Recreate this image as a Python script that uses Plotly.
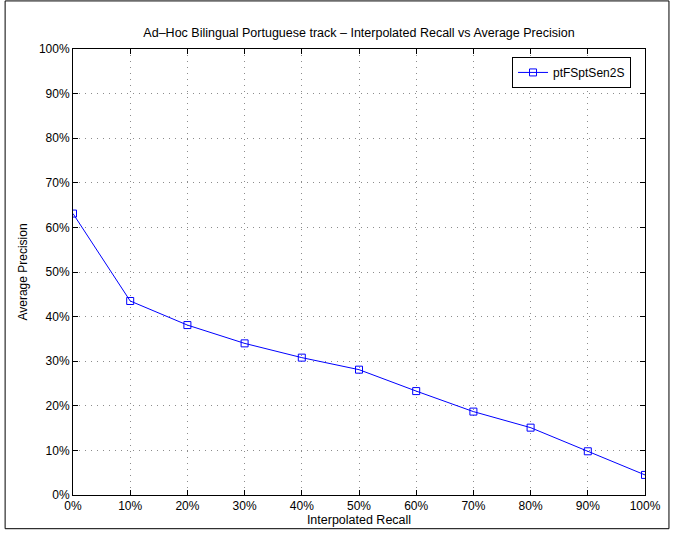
import plotly.graph_objects as go

recall = [0, 10, 20, 30, 40, 50, 60, 70, 80, 90, 100]
precision = [63.1, 43.5, 38.1, 34.0, 30.8, 28.1, 23.3, 18.7, 15.1, 9.8, 4.5]
tick_vals = [0, 10, 20, 30, 40, 50, 60, 70, 80, 90, 100]
tick_text = [f"{v}%" for v in tick_vals]
series_name = "ptFSptSen2S"

fig = go.Figure()
fig.add_trace(go.Scatter(
    x=recall, y=precision, mode="lines+markers", name=series_name,
    line=dict(color="#0000FF", width=1),
    marker=dict(symbol="square-open", size=7, color="#0000FF", line=dict(width=1)),
))

L, R, T, B = 73, 646, 49, 499
W, H = 673, 536

def px(x):
    return (x - L) / (R - L)

def py(y):
    return (B - y) / (B - T)

axis_common = dict(
    showline=True, linecolor="black", linewidth=1, mirror="ticks",
    ticks="inside", ticklen=5, tickcolor="black",
    showgrid=True, gridcolor="#8c8c8c", griddash="1px,5px", gridwidth=1,
    zeroline=False, tickfont=dict(size=12, color="black"),
    tickvals=tick_vals, ticktext=tick_text,
)

fig.update_layout(
    width=W, height=H,
    margin=dict(l=L, r=W - R, t=T, b=H - B),
    paper_bgcolor="white", plot_bgcolor="white",
    font=dict(family="Liberation Sans, Arial, sans-serif", color="black", size=12),
    title=dict(text="Ad\u2013Hoc Bilingual Portuguese track \u2013 Interpolated Recall vs Average Precision",
               x=0.5, xref="paper", y=1 - 33 / H, yanchor="middle",
               font=dict(size=12.5, color="black")),
    xaxis=dict(range=[0, 100], title=dict(text="Interpolated Recall", standoff=2,
               font=dict(size=12.5)), **axis_common),
    yaxis=dict(range=[0, 100], title=dict(text="Average Precision", standoff=8,
               font=dict(size=12)), **axis_common),
    showlegend=True,
    legend=dict(x=px(632), y=py(57), xanchor="right", yanchor="top",
                bordercolor="black", borderwidth=1, bgcolor="white",
                font=dict(size=12)),
)

fig.add_shape(type="rect", xref="paper", yref="paper",
              x0=px(5), x1=px(670), y0=py(533), y1=py(0.5),
              line=dict(color="black", width=1), layer="below")

fig.write_html("out.html", config={"displayModeBar": False},
               post_script="document.body.style.margin='0';document.body.style.overflow='hidden';")
